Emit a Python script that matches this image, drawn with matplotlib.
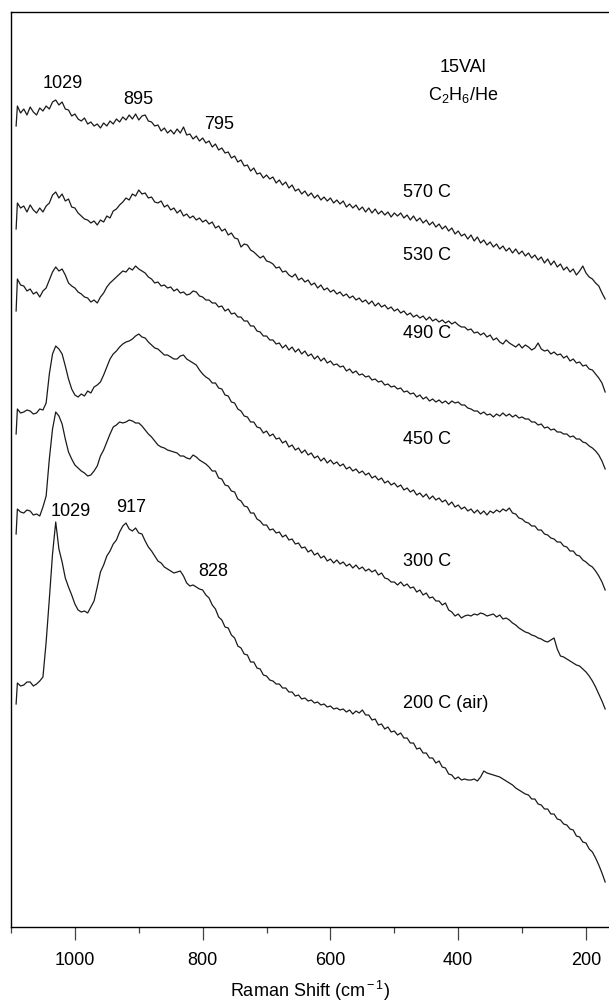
import matplotlib.pyplot as plt

plt.rcParams['font.family'] = ['Liberation Sans', 'DejaVu Sans']
plt.rcParams['mathtext.fontset'] = 'custom'
plt.rcParams['mathtext.rm'] = 'Liberation Sans'
plt.rcParams['mathtext.it'] = 'Liberation Sans:italic'

# Raman shift (cm-1): first point is the foot where each scan starts
shift = [1092] + list(range(1090, 169, -5))

# intensities (a.u., stacked), 100 cm-1 per row
i_570 = [873,
         893, 886, 890, 884, 892, 887, 884, 891, 888, 893, 890, 897, 899, 894, 897, 890, 889, 883, 885, 880,
         878, 881, 875, 877, 873, 875, 871, 876, 873, 878, 875, 880, 877, 882, 879, 884, 880, 885, 879, 883,
         884, 878, 877, 873, 874, 868, 871, 866, 869, 865, 870, 866, 872, 864, 865, 860, 863, 858, 861, 856,
         858, 852, 855, 849, 851, 846, 847, 841, 843, 837, 839, 833, 834, 828, 831, 825, 826, 821, 824, 820,
         822, 816, 819, 814, 817, 811, 814, 808, 810, 805, 808, 803, 806, 801, 804, 799, 802, 798, 801, 796,
         799, 795, 798, 792, 795, 791, 794, 789, 792, 787, 791, 786, 790, 785, 788, 784, 787, 782, 786, 783,
         786, 781, 784, 779, 783, 778, 781, 776, 779, 774, 777, 772, 775, 770, 773, 768, 771, 765, 768, 763,
         765, 760, 764, 758, 762, 756, 759, 754, 757, 752, 755, 750, 753, 748, 751, 746, 750, 745, 748, 743,
         746, 741, 744, 739, 742, 736, 740, 734, 738, 732, 735, 729, 732, 727, 730, 724, 728, 733, 726, 722,
         720, 716, 713, 706, 700]
i_530 = [770,
         796, 791, 793, 787, 794, 789, 786, 791, 787, 793, 796, 804, 807, 801, 805, 798, 800, 792, 791, 786,
         783, 780, 779, 776, 778, 774, 779, 777, 783, 781, 788, 790, 794, 797, 801, 799, 805, 803, 809, 805,
         806, 801, 802, 797, 796, 798, 792, 794, 789, 791, 786, 789, 783, 785, 781, 783, 779, 781, 777, 779,
         775, 777, 771, 773, 768, 770, 764, 766, 761, 760, 752, 755, 754, 749, 747, 744, 741, 743, 738, 737,
         735, 731, 732, 727, 728, 724, 722, 725, 719, 721, 717, 719, 714, 716, 711, 714, 709, 711, 707, 709,
         705, 707, 703, 705, 701, 703, 699, 701, 697, 699, 695, 698, 693, 696, 692, 694, 690, 692, 688, 690,
         686, 688, 684, 686, 682, 684, 681, 683, 679, 682, 678, 680, 677, 679, 676, 678, 675, 677, 674, 672,
         672, 669, 670, 666, 667, 664, 666, 662, 664, 659, 661, 657, 655, 659, 656, 654, 652, 655, 651, 654,
         652, 649, 651, 656, 650, 648, 649, 645, 647, 644, 645, 641, 643, 638, 640, 636, 637, 633, 634, 630,
         629, 625, 621, 616, 607]
i_490 = [688,
         720, 714, 713, 708, 710, 705, 707, 702, 708, 711, 719, 727, 732, 728, 730, 724, 716, 713, 711, 707,
         705, 702, 701, 697, 699, 696, 702, 706, 712, 716, 719, 722, 725, 728, 727, 731, 729, 733, 730, 728,
         726, 722, 720, 716, 717, 713, 714, 711, 712, 708, 710, 706, 707, 704, 705, 708, 707, 703, 702, 699,
         699, 696, 696, 692, 693, 688, 690, 685, 686, 682, 682, 678, 678, 673, 673, 668, 667, 663, 663, 659,
         659, 655, 656, 651, 654, 649, 652, 647, 650, 645, 648, 643, 645, 640, 643, 638, 641, 636, 638, 634,
         635, 632, 633, 628, 630, 626, 628, 624, 625, 622, 623, 619, 620, 617, 618, 614, 615, 612, 613, 610,
         611, 607, 608, 605, 606, 602, 604, 600, 602, 598, 600, 597, 599, 596, 598, 595, 598, 596, 597, 594,
         594, 591, 590, 588, 588, 585, 587, 584, 585, 582, 585, 583, 586, 583, 585, 582, 584, 581, 582, 580,
         580, 577, 577, 574, 575, 571, 572, 569, 570, 567, 567, 565, 565, 562, 563, 560, 560, 557, 556, 553,
         551, 548, 544, 538, 530]
i_450 = [565,
         590, 586, 587, 589, 588, 585, 586, 590, 589, 596, 625, 645, 653, 650, 645, 633, 620, 610, 604, 602,
         605, 603, 608, 606, 612, 614, 617, 624, 632, 640, 645, 648, 652, 655, 657, 658, 660, 663, 665, 662,
         661, 657, 654, 651, 650, 647, 644, 644, 642, 640, 640, 643, 644, 640, 638, 636, 634, 629, 625, 622,
         620, 616, 616, 611, 610, 604, 603, 597, 596, 590, 588, 583, 582, 577, 577, 572, 571, 566, 568, 563,
         565, 560, 561, 556, 558, 552, 554, 549, 551, 546, 549, 544, 546, 541, 543, 538, 541, 536, 539, 535,
         537, 533, 535, 530, 532, 528, 530, 526, 528, 524, 526, 521, 523, 519, 521, 516, 518, 514, 516, 512,
         514, 509, 511, 507, 509, 504, 506, 502, 505, 500, 503, 499, 501, 497, 499, 494, 497, 492, 494, 490,
         492, 488, 490, 486, 489, 485, 488, 484, 488, 486, 489, 487, 490, 488, 491, 486, 485, 481, 480, 477,
         476, 473, 473, 469, 469, 465, 464, 461, 460, 457, 457, 453, 452, 448, 448, 444, 443, 439, 437, 434,
         432, 428, 423, 417, 409]
i_300 = [465,
         490, 487, 486, 489, 488, 484, 485, 483, 492, 503, 540, 570, 587, 583, 575, 560, 547, 540, 534, 531,
         528, 526, 523, 524, 528, 533, 543, 549, 557, 565, 572, 574, 577, 576, 577, 579, 578, 576, 576, 573,
         569, 565, 562, 558, 554, 552, 551, 549, 548, 547, 546, 543, 543, 541, 540, 544, 542, 539, 537, 535,
         532, 528, 528, 521, 520, 514, 513, 508, 507, 500, 498, 493, 492, 486, 486, 480, 478, 474, 474, 469,
         470, 466, 467, 462, 464, 459, 460, 455, 456, 451, 452, 447, 449, 444, 446, 441, 443, 438, 440, 436,
         439, 435, 437, 433, 435, 431, 434, 430, 432, 428, 430, 427, 429, 424, 426, 421, 420, 417, 417, 414,
         417, 413, 415, 411, 412, 407, 409, 404, 406, 401, 402, 398, 398, 394, 396, 389, 387, 383, 385, 381,
         383, 384, 383, 385, 384, 386, 385, 383, 384, 385, 382, 384, 380, 381, 379, 376, 374, 371, 369, 367,
         366, 364, 363, 361, 360, 358, 357, 359, 361, 350, 343, 342, 340, 338, 336, 334, 333, 330, 327, 323,
         318, 312, 305, 298, 290]
i_200 = [295,
         316, 313, 314, 317, 317, 313, 315, 318, 322, 357, 400, 445, 477, 450, 437, 421, 412, 404, 395, 389,
         387, 388, 386, 392, 398, 412, 427, 434, 443, 448, 455, 459, 467, 473, 476, 470, 468, 471, 466, 465,
         458, 452, 448, 443, 438, 436, 432, 430, 428, 426, 427, 428, 423, 416, 413, 414, 412, 410, 409, 404,
         401, 394, 390, 382, 379, 372, 371, 364, 361, 353, 351, 345, 344, 337, 337, 331, 330, 324, 323, 319,
         318, 315, 315, 311, 311, 307, 307, 303, 304, 300, 301, 298, 299, 296, 297, 294, 295, 292, 293, 290,
         291, 289, 290, 287, 289, 285, 288, 286, 289, 284, 284, 279, 280, 274, 275, 270, 272, 267, 268, 264,
         266, 261, 261, 256, 256, 250, 251, 246, 246, 241, 241, 236, 238, 232, 231, 225, 224, 220, 222, 219,
         220, 219, 219, 220, 218, 222, 228, 226, 225, 224, 223, 222, 220, 218, 216, 214, 211, 209, 207, 205,
         204, 200, 200, 195, 194, 190, 190, 185, 185, 180, 179, 175, 174, 170, 169, 163, 162, 157, 156, 150,
         147, 141, 134, 126, 117]

spectra = [i_570, i_530, i_490, i_450, i_300, i_200]
temps = ['570 C', '530 C', '490 C', '450 C', '300 C', '200 C (air)']
temp_y = [808, 744, 667, 560, 438, 297]

peaks_top = [('1029', 1019, 917), ('895', 900, 901), ('795', 775, 876)]
peaks_air = [('1029', 1006, 488), ('917', 912, 493), ('828', 784, 429)]

fig = plt.figure(figsize=(6.09, 10.04), dpi=100)
ax = fig.add_axes([11 / 609, 76 / 1004, 598 / 609, 915.5 / 1004])

for s in spectra:
    ax.plot(shift, s, color='#1a1a1a', lw=0.9)

for t, ty in zip(temps, temp_y):
    ax.text(486, ty, t, fontsize=13, ha='left', va='center')

for lab, px, py in peaks_top + peaks_air:
    ax.text(px, py, lab, fontsize=13, ha='center', va='center')

ax.text(392, 933, '15VAl', fontsize=13, ha='center', va='center')
ax.text(392, 905, r'C$_2$H$_6$/He', fontsize=13, ha='center', va='center')

ax.set_xlim(1100, 164)
ax.set_ylim(72, 987.5)
ax.set_xticks([1000, 800, 600, 400, 200])
ax.set_xticks([1100, 900, 700, 500, 300], minor=True)
ax.set_yticks([])
ax.spines['right'].set_visible(False)
for sp in ['top', 'left', 'bottom']:
    ax.spines[sp].set_linewidth(1.0)
ax.tick_params(axis='x', which='major', direction='out', length=9.5, width=0.9,
               color='#444444', labelsize=13, pad=8)
ax.tick_params(axis='x', which='minor', direction='out', length=4.5, width=0.9,
               color='#444444')
ax.set_xlabel(r'Raman Shift (cm$^{\rm -1}$)', fontsize=13, labelpad=7)

plt.savefig('out.png', dpi=100)
